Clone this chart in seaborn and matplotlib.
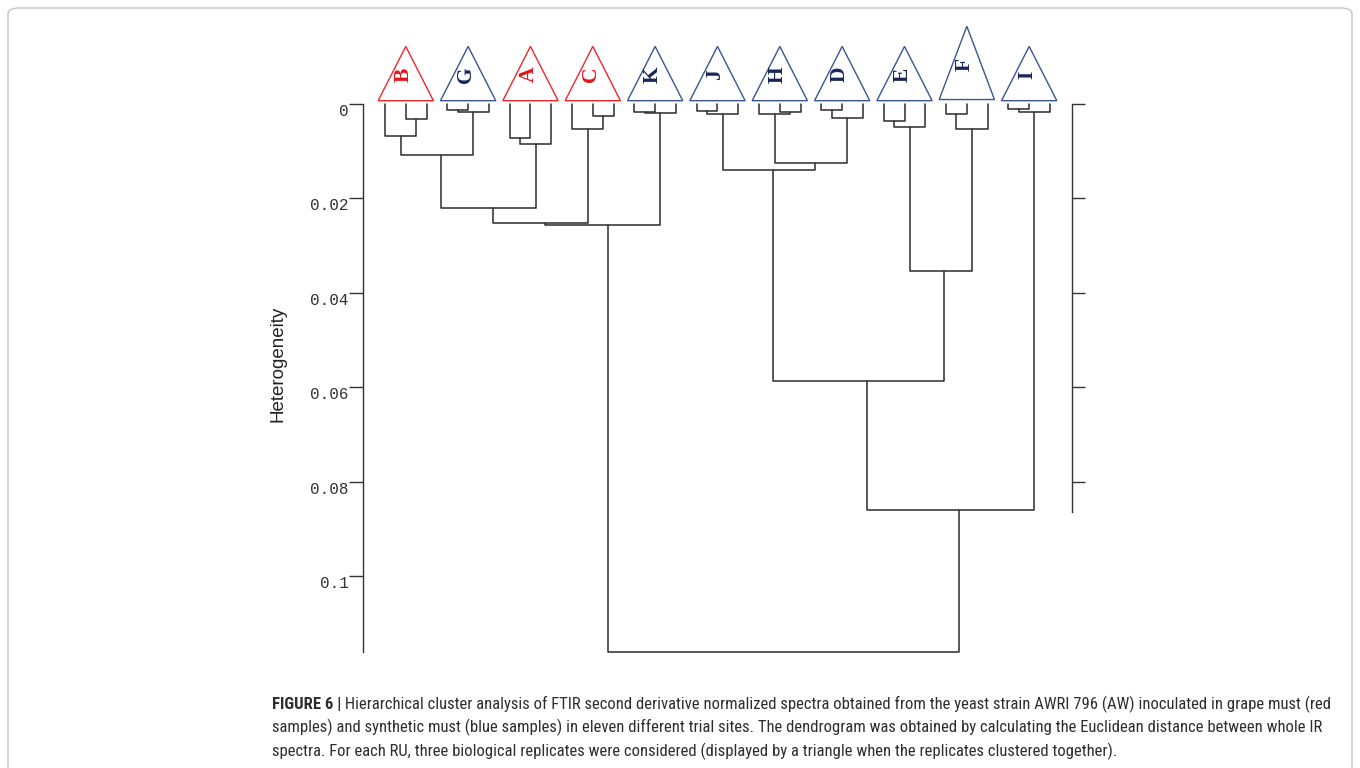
import matplotlib
matplotlib.use("Agg")
import matplotlib.pyplot as plt
from matplotlib import font_manager
from matplotlib.patches import Polygon, FancyBboxPatch
import numpy as np
import pandas as pd
import seaborn as sns

# ---------------------------------------------------------------- data
# Trial sites in leaf order and the must they were grown in
groups = ["B", "G", "A", "C", "K", "J", "H", "D", "E", "F", "I"]
must = ["grape", "synthetic", "grape", "grape", "synthetic", "synthetic",
        "synthetic", "synthetic", "synthetic", "synthetic", "synthetic"]

# Replicate merges inside each site: first pair, its height, then the third replicate
first_pair = ["23", "12", "12", "23", "12", "12", "23", "12", "12", "12", "12"]
pair_height = [0.0032, 0.0012, 0.0071, 0.0025, 0.0017, 0.0014, 0.0018, 0.0013, 0.0035, 0.0022, 0.0011]
group_height = [0.0068, 0.0018, 0.0084, 0.0054, 0.0020, 0.0022, 0.0022, 0.0029, 0.0049, 0.0052, 0.0016]

# Merges between sites
merge_left = ["B", "BG", "BGA", "BGAC", "H", "J", "E", "JHD", "JHDEF", "BGACK"]
merge_right = ["G", "A", "C", "K", "D", "HD", "F", "EF", "I", "JHDEFI"]
merge_height = [0.0108, 0.0221, 0.0253, 0.0256, 0.0124, 0.0140, 0.0353, 0.0587, 0.0860, 0.1162]

y_ticks = [0, 0.02, 0.04, 0.06, 0.08, 0.1]
y_tick_labels = ["0", "0.02", "0.04", "0.06", "0.08", "0.1"]

caption_bold = "FIGURE 6 |"
caption_lines = [
    " Hierarchical cluster analysis of FTIR second derivative normalized spectra obtained from the yeast strain AWRI 796 (AW) inoculated in grape must (red",
    "samples) and synthetic must (blue samples) in eleven different trial sites. The dendrogram was obtained by calculating the Euclidean distance between whole IR",
    "spectra. For each RU, three biological replicates were considered (displayed by a triangle when the replicates clustered together).",
]

# ---------------------------------------------------------------- styles
outline_col = {"grape": "#f2262b", "synthetic": "#3b5494"}
letter_col = {"grape": "#e3141a", "synthetic": "#17255a"}
tri_scale = {"F": 1.35}
line_col = "#333333"
site_node_bias = 0.55   # site-level nodes sit a little right of the midpoint

# ---------------------------------------------------------------- tree layout
segments = []
node_x, node_h = {}, {}


def join(a, b, h, name, bias=0.5):
    xa, ha, xb, hb = node_x[a], node_h[a], node_x[b], node_h[b]
    for k, (x, y) in enumerate([(xa, ha), (xa, h), (xb, h), (xb, hb)]):
        segments.append({"seg": name, "k": k, "x": x, "y": y})
    node_x[name] = xa + bias * (xb - xa)
    node_h[name] = h


for g, site in enumerate(groups):
    leaves = [f"{site}{r}" for r in (1, 2, 3)]
    for r, leaf in enumerate(leaves):
        node_x[leaf] = 3 * g + r
        node_h[leaf] = 0.0
    if first_pair[g] == "12":
        join(leaves[0], leaves[1], pair_height[g], site + "_p")
        join(site + "_p", leaves[2], group_height[g], site)
    else:
        join(leaves[1], leaves[2], pair_height[g], site + "_p")
        join(leaves[0], site + "_p", group_height[g], site)

for a, b, h in zip(merge_left, merge_right, merge_height):
    join(a, b, h, a + b, bias=site_node_bias)

seg_df = pd.DataFrame(segments)

# ---------------------------------------------------------------- figure
sns.set_theme(style="white")
plt.rcParams["font.family"] = ["Liberation Sans", "DejaVu Sans"]

W, H = 1360, 768
fig = plt.figure(figsize=(W / 100, H / 100), dpi=100)

# pixel geometry of the plotting frame
px0, px1 = 363, 1072          # left / right axis lines
py_top, py_bot = 20, 660      # axes box
py_zero, px_per_unit = 104, 4720.0
leaf0_px, leaf_step = 385, 20.78

ax = fig.add_axes([px0 / W, 1 - py_bot / H, (px1 - px0) / W, (py_bot - py_top) / H])
ax.set_xlim((px0 - leaf0_px) / leaf_step, (px1 - leaf0_px) / leaf_step)
ax.set_ylim((py_bot - py_zero) / px_per_unit, (py_top - py_zero) / px_per_unit)
ax.patch.set_alpha(0)

sns.lineplot(data=seg_df, x="x", y="y", units="seg", estimator=None, sort=False,
             color=line_col, linewidth=1.15, ax=ax, legend=False)

# replicate triangles with site letters
for g, site in enumerate(groups):
    cx = 3 * g + 1
    s = tri_scale.get(site, 1.0)
    base = -0.0007 * s
    apex = base - 0.0115 * s
    hw = 1.33
    tri = Polygon([(cx - hw, base), (cx + hw, base), (cx, apex)], closed=True,
                  fill=False, edgecolor=outline_col[must[g]], linewidth=1.0)
    ax.add_patch(tri)
    ax.text(cx - 0.1, base + 0.48 * (apex - base), site, rotation=90,
            ha="center", va="center", fontsize=15.5, fontweight="bold",
            family=["Liberation Serif", "DejaVu Serif"], color=letter_col[must[g]])

# axes: left scale with labels, right scale with bare ticks
for side in ("top", "bottom", "right"):
    ax.spines[side].set_visible(False)
ax.spines["left"].set_bounds(0, merge_height[-1])
ax.spines["left"].set_color(line_col)
ax.spines["left"].set_linewidth(1.0)
ax.set_xticks([])
ax.set_xlabel("")
ax.set_ylabel("")
ax.set_yticks(y_ticks)
ax.set_yticklabels(y_tick_labels)
ax.tick_params(axis="y", direction="out", length=10, width=1.0, color=line_col,
               pad=0.5, labelsize=11.5, labelcolor="#333333", left=True)
for lbl in ax.get_yticklabels():
    lbl.set_family(["Liberation Mono", "DejaVu Sans Mono"])
    lbl.set_va("top")

ax2 = ax.twinx()
ax2.set_ylim(ax.get_ylim())
ax2.patch.set_alpha(0)
for side in ("top", "bottom", "left"):
    ax2.spines[side].set_visible(False)
ax2.spines["right"].set_bounds(0, 0.0864)
ax2.spines["right"].set_color(line_col)
ax2.spines["right"].set_linewidth(1.0)
ax2.set_yticks(y_ticks[:-1])
ax2.tick_params(axis="y", direction="out", length=9.5, width=1.0, color=line_col,
                labelright=False, right=True)
ax2.set_ylabel("")

fig.text(278 / W, 1 - 364 / H, "Heterogeneity", rotation=90, ha="center", va="center",
         fontsize=13.5, color="#222222")

# outer frame
frame = FancyBboxPatch((8 / W, -20 / H), (W - 16) / W, (H - 8 + 20) / H,
                       boxstyle="round,pad=0,rounding_size=0.008",
                       transform=fig.transFigure, fill=False,
                       edgecolor="#c4c4c4", linewidth=1.0)
fig.patches.append(frame)

# caption: prefer a narrow sans face when one is installed
names = {f.name for f in font_manager.fontManager.ttflist}
narrow = [n for n in ("Liberation Sans Narrow", "Arial Narrow", "Roboto Condensed",
                      "Open Sans Condensed", "Noto Sans Condensed", "DejaVu Sans Condensed")
          if n in names]
narrow += sorted(n for n in names if ("Narrow" in n or "Condensed" in n) and n not in narrow)
cap_family = narrow[0] if narrow else "Liberation Sans"
cap_x, cap_target = 272, 1061
renderer = fig.canvas.get_renderer()


def draw_caption(size):
    arts = []
    b = fig.text(cap_x / W, 1 - 709 / H, caption_bold, fontsize=size, fontweight="bold",
                 family=cap_family, color="#2e2e2e", va="baseline")
    arts.append(b)
    bw = b.get_window_extent(renderer).width
    r = fig.text((cap_x + bw) / W, 1 - 709 / H, caption_lines[0], fontsize=size,
                 family=cap_family, color="#2e2e2e", va="baseline")
    arts.append(r)
    width = bw + r.get_window_extent(renderer).width
    for i, line in enumerate(caption_lines[1:]):
        arts.append(fig.text(cap_x / W, 1 - (709 + 23.5 * (i + 1)) / H, line, fontsize=size,
                             family=cap_family, color="#2e2e2e", va="baseline"))
    return arts, width


arts, width = draw_caption(11.5)
size = min(13.0, 11.5 * cap_target / width)
for a in arts:
    a.remove()
draw_caption(size)

fig.savefig("out.png", dpi=100)
